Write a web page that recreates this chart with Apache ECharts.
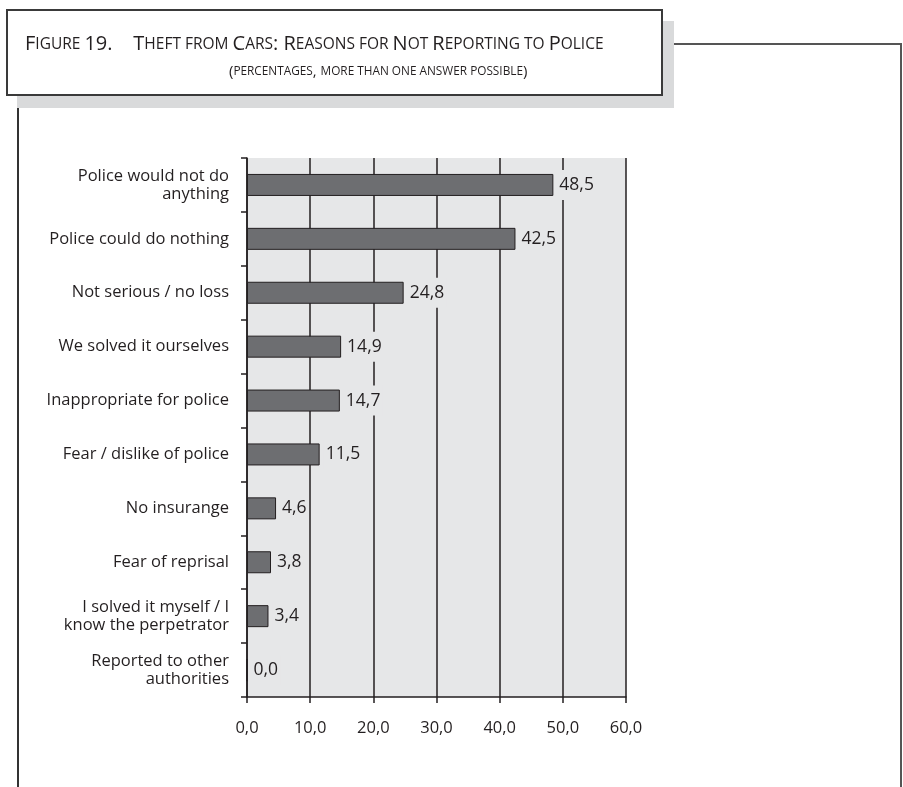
<!DOCTYPE html>
<html>
<head>
<meta charset="utf-8">
<script src="https://cdn.jsdelivr.net/npm/echarts@6/dist/echarts.min.js"></script>
<style>
html,body{margin:0;padding:0;background:#fff;}
#chart{width:903px;height:787px;}
</style>
</head>
<body>
<div id="chart"></div>
<script>
const titleLine1 = "Figure 19.    Theft from Cars: Reasons for Not Reporting to Police";
const titleLine2 = "(percentages, more than one answer possible)";
const categories = [
  "Police would not do\nanything",
  "Police could do nothing",
  "Not serious / no loss",
  "We solved it ourselves",
  "Inappropriate for police",
  "Fear / dislike of police",
  "No insurange",
  "Fear of reprisal",
  "I solved it myself / I\nknow the perpetrator",
  "Reported to other\nauthorities"
];
const values = [48.5, 42.5, 24.8, 14.9, 14.7, 11.5, 4.6, 3.8, 3.4, 0.0];
const xMin = 0, xMax = 60, xInterval = 10;

const FONT = "Open Sans";
const TFONT = "Open Sans";
const INK = "#231f20";
const PLOT_BG = "#e6e7e8";

function comma(v){ return Number(v).toFixed(1).replace('.', ','); }

// convert to small caps rich text
function smallCaps(str){
  let out = '';
  let cur = null, buf = '';
  const flush = () => { if (buf) { out += '{' + cur + '|' + buf + '}'; buf = ''; } };
  for (const ch of str) {
    let kind;
    if (ch >= 'a' && ch <= 'z') kind = 's';
    else if (ch === ' ') kind = cur || 'b';
    else kind = 'b';
    if (kind !== cur) { flush(); cur = kind; }
    buf += (kind === 's') ? ch.toUpperCase() : ch;
  }
  flush();
  return out;
}

const chart = echarts.init(document.getElementById('chart'), null, {renderer:'canvas'});
const rich1 = {
  b: {fontFamily: TFONT, fontSize: 20, fontWeight: 'normal', color: INK, lineHeight: 22, verticalAlign: 'bottom'},
  s: {fontFamily: TFONT, fontSize: 15.5, fontWeight: 'normal', color: INK, lineHeight: 22, verticalAlign: 'bottom', padding: [0, 0, 1, 0]}
};
const rich2 = {
  b: {fontFamily: TFONT, fontSize: 15, fontWeight: 'normal', color: INK, lineHeight: 20, verticalAlign: 'bottom'},
  s: {fontFamily: TFONT, fontSize: 11.8, fontWeight: 'normal', color: INK, lineHeight: 20, verticalAlign: 'bottom', padding: [0, 0, 1, 0]}
};
chart.setOption({
  backgroundColor: '#fff',
  animation: false,
  title: [
    {text: smallCaps(titleLine1), left: 25, top: 32, padding: 0,
     textStyle: {fontWeight: 'normal', rich: rich1}},
    {text: smallCaps(titleLine2), left: 229, top: 59, padding: 0,
     textStyle: {fontWeight: 'normal', rich: rich2}}
  ],
  graphic: [
    {type:'rect', z:-10, shape:{x:17, y:21, width:657, height:87}, style:{fill:'#d9dadb'}},
    {type:'rect', z:-9, shape:{x:7, y:10, width:655, height:85}, style:{fill:'#fff', stroke:'#3a3a3a', lineWidth:2}},
    {type:'polyline', z:-9, shape:{points:[[674,44],[901,44],[901,787]]}, style:{fill:null, stroke:'#555', lineWidth:2}},
    {type:'line', z:-9, shape:{x1:18, y1:108, x2:18, y2:787}, style:{stroke:'#333', lineWidth:2}}
  ],
  grid: {left: 247, right: 277, top: 158, bottom: 90, show: true, backgroundColor: PLOT_BG, borderWidth: 0},
  xAxis: {
    type: 'value', min: xMin, max: xMax, interval: xInterval,
    axisLine: {show: true, lineStyle: {color: INK, width: 1.5}},
    axisTick: {show: true, length: 6, lineStyle: {color: INK, width: 1.5}},
    axisLabel: {color: INK, fontFamily: FONT, fontSize: 16.5, margin: 23, formatter: comma},
    splitLine: {show: true, lineStyle: {color: INK, width: 1.5}}
  },
  yAxis: {
    type: 'category', data: categories, inverse: true,
    axisLine: {show: true, lineStyle: {color: INK, width: 1.5}},
    axisTick: {show: true, length: 6, lineStyle: {color: INK, width: 1.5}},
    axisLabel: {color: INK, fontFamily: FONT, fontSize: 16.5, lineHeight: 18, margin: 18, align: 'right'}
  },
  series: [{
    type: 'bar', data: values, barWidth: 22,
    itemStyle: {color: '#6d6e71', borderColor: INK, borderWidth: 1},
    label: {show: true, position: 'right', distance: 4, color: INK, fontFamily: FONT, fontSize: 17.5,
      backgroundColor: PLOT_BG, padding: [6, 2], formatter: p => comma(p.value)}
  }]
});
</script>
</body>
</html>
